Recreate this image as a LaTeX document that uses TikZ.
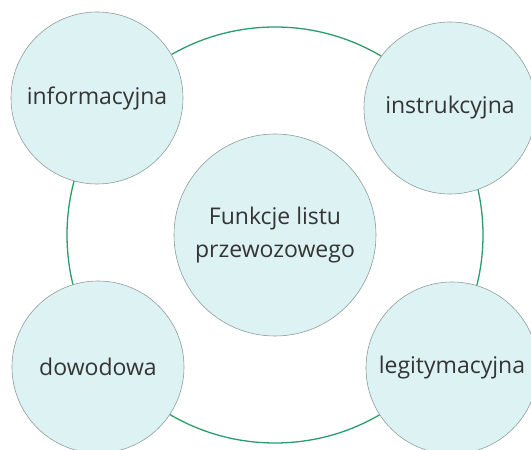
\documentclass[tikz,border=0pt]{standalone}
\usepackage{fontspec}
\setmainfont{Open Sans}
\usepackage{xcolor}
\usepackage{tikz}
\usetikzlibrary{positioning}

\definecolor{ringgreen}{HTML}{2A9D6A}
\definecolor{bubblefill}{HTML}{DDF2F2}
\definecolor{bubbleline}{HTML}{8E9C9C}
\definecolor{labelgray}{HTML}{353535}

\tikzset{
  ring/.style={circle, draw=ringgreen, line width=1.3pt, minimum size=416pt, inner sep=0pt},
  bubble/.style={circle, draw=bubbleline, fill=bubblefill, line width=0.6pt,
    minimum size=172pt, inner sep=0pt, text=labelgray, align=center,
    font=\fontsize{23}{33}\selectfont},
  hub/.style={bubble, minimum size=202pt}
}

\begin{document}
\begin{tikzpicture}[x=1pt, y=1pt]
  \useasboundingbox (0,0) rectangle (531,450);
  % big green ring behind everything
  \node[ring] (ring) at (275,215) {};

  \node[hub] (funkcje) at (275,215) {Funkcje listu\\przewozowego};

  \node[bubble] (info)  at (97,352)  {informacyjna};
  \node[bubble] (instr) at (450,342) {instrukcyjna};
  \node[bubble] (dowod) at (98,83)   {dowodowa};
  \node[bubble] (legit) at (452,82)  {legitymacyjna};
\end{tikzpicture}
\end{document}
